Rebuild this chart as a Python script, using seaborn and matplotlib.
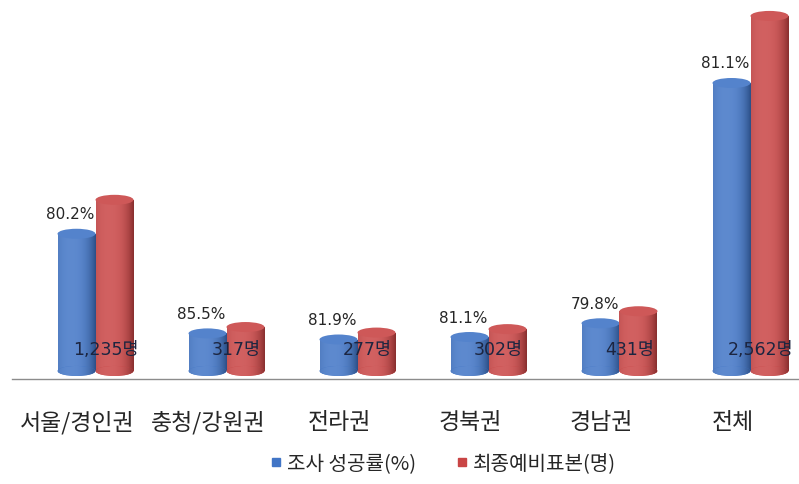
import numpy as np
import pandas as pd
import matplotlib
matplotlib.use("Agg")
import matplotlib.pyplot as plt
from matplotlib.patches import Ellipse
from matplotlib.lines import Line2D
import seaborn as sns

# ---- data ----
categories = ["서울/경인권", "충청/강원권", "전라권", "경북권", "경남권", "전체"]
success_rate = [80.2, 85.5, 81.9, 81.1, 79.8, 81.1]          # label on blue bars (%)
completed = [990, 271, 227, 245, 344, 2078]                  # blue bar heights
final_sample = [1235, 317, 277, 302, 431, 2562]              # red bar heights (명)
series_names = ["조사 성공률(%)", "최종예비표본(명)"]
colors = ["#4175C6", "#C94545"]

df = pd.DataFrame({
    "region": categories * 2,
    "value": completed + final_sample,
    "series": [series_names[0]] * len(categories) + [series_names[1]] * len(categories),
})

sns.set_theme(style="white")
plt.rcParams["font.family"] = ["Noto Sans CJK KR", "DejaVu Sans"]
text_color = "#262626"

fig = plt.figure(figsize=(7.99, 4.85), dpi=100)
ax = fig.add_axes([12 / 799, 105 / 485, 786 / 799, 375 / 485])

sns.barplot(data=df, x="region", y="value", hue="series", hue_order=series_names,
            palette=colors, width=0.58, gap=0, legend=False, ax=ax, saturation=1)

ymin, ymax = -58, 2648
ax.set_ylim(ymin, ymax)
ax.set_xlim(-0.5, len(categories) - 0.5)

px_per_unit = 375 / (ymax - ymin)
ell_h = 10 / px_per_unit
shift = 18 / 131          # 3-D perspective: bars sit a little right of the category centre


def shade(base, n=64):
    rgb = np.array(matplotlib.colors.to_rgb(base))
    t = np.linspace(0, 1, n)
    f = np.clip(1 - ((t - 0.35) / 0.65) ** 2, 0, 1)
    light = 0.15 * f
    dark = 0.32 * (1 - f) ** 1.5
    cols = rgb[None, :] * (1 - dark[:, None]) + (1 - rgb[None, :]) * light[:, None]
    return np.clip(cols, 0, 1)[None, :, :]


for si, cont in enumerate(ax.containers):
    base = colors[si]
    grad = shade(base)
    z = 2 + si
    for patch in cont.patches:
        patch.set_x(patch.get_x() + shift)
        x0 = patch.get_x()
        w = patch.get_width()
        h = patch.get_height()
        patch.set_zorder(z)
        patch.set_edgecolor("none")
        im = ax.imshow(grad, extent=[x0, x0 + w, 0, h], aspect="auto",
                       zorder=z, interpolation="bilinear")
        im.set_clip_path(patch)
        bottom = Ellipse((x0 + w / 2, 0), w, ell_h, facecolor=base, edgecolor="none", zorder=z)
        ax.add_patch(bottom)
        im2 = ax.imshow(grad, extent=[x0, x0 + w, -ell_h / 2, ell_h / 2], aspect="auto",
                        zorder=z, interpolation="bilinear")
        im2.set_clip_path(bottom)
        rgb = np.array(matplotlib.colors.to_rgb(base))
        top_col = rgb + (1 - rgb) * 0.10
        ax.add_patch(Ellipse((x0 + w / 2, h), w, ell_h, facecolor=top_col,
                             edgecolor="none", zorder=z + 0.1))
    ax.set_xlim(-0.5, len(categories) - 0.5)
    ax.set_ylim(ymin, ymax)

# labels
for patch, rate in zip(ax.containers[0].patches, success_rate):
    cx = patch.get_x() + patch.get_width() / 2
    ax.annotate(f"{rate:.1f}%", (cx, patch.get_height()), xytext=(-6, 20),
                textcoords="offset pixels", ha="center", va="center",
                fontsize=11, color=text_color, zorder=10,
                family=["DejaVu Sans", "Noto Sans CJK KR"])
for patch, n in zip(ax.containers[1].patches, final_sample):
    cx = patch.get_x() + patch.get_width() / 2
    ax.annotate(f"{n:,}명", (cx, 0), xytext=(-9, 22),
                textcoords="offset pixels", ha="center", va="center",
                fontsize=12.5, color="#1c2540", zorder=10,
                family=["DejaVu Sans", "Noto Sans CJK KR"])

# axes styling
for s in ["top", "right", "left"]:
    ax.spines[s].set_visible(False)
ax.spines["bottom"].set_color("#8c8c8c")
ax.spines["bottom"].set_linewidth(1)
ax.set_yticks([])
ax.set_xlabel("")
ax.set_ylabel("")
ax.set_xticks(range(len(categories)))
ax.set_xticklabels(categories, fontsize=16.5, color=text_color)
ax.tick_params(axis="x", which="major", length=0, pad=22)
ax.set_xticks(np.arange(-0.5, len(categories), 1.0), minor=True)
ax.tick_params(axis="x", which="minor", length=8, width=1, color="#8c8c8c", direction="out")

handles = [Line2D([0], [0], marker="s", linestyle="none", markersize=6,
                  markerfacecolor=c, markeredgecolor=c) for c in colors]
fig.legend(handles, series_names, loc="center", bbox_to_anchor=(443 / 799, 1 - 465 / 485),
           ncol=2, frameon=False, fontsize=14.5, handletextpad=0.25, columnspacing=2.0,
           handlelength=0.6, labelcolor=text_color)

fig.savefig("out.png", dpi=100)
